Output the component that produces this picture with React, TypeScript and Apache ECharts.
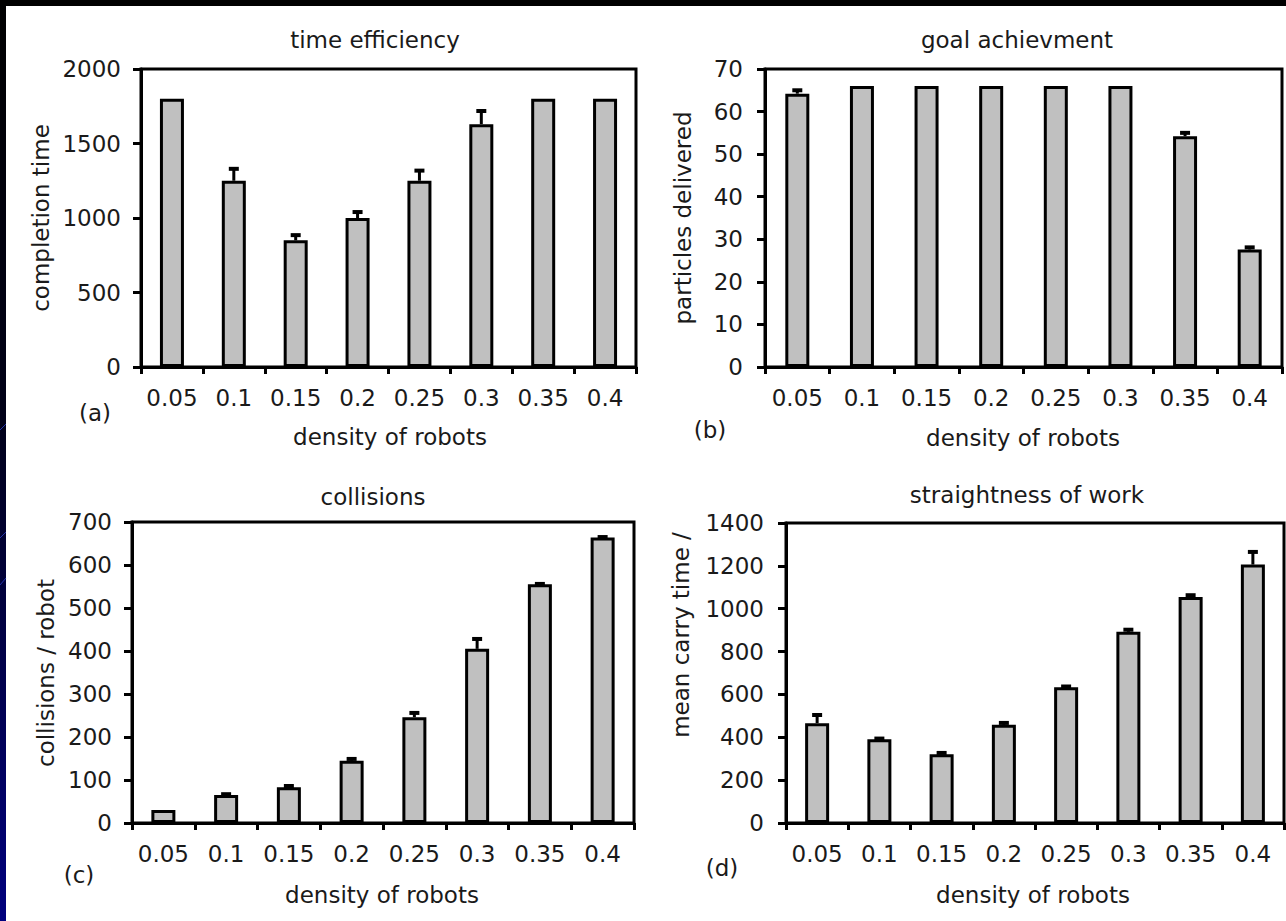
import React, { useEffect, useRef } from "react";
import * as echarts from "echarts";

const densities = ["0.05", "0.1", "0.15", "0.2", "0.25", "0.3", "0.35", "0.4"];

const timeValues = [1800, 1250, 850, 1000, 1250, 1630, 1800, 1800];
const timeErrors = [0, 80, 35, 40, 68, 88, 0, 0];

const goalValues = [64.2, 66, 66, 66, 66, 66, 54.2, 27.6];
const goalErrors = [0.8, 0, 0, 0, 0, 0, 0.8, 0.5];

const collisionValues = [30, 65, 83, 145, 246, 405, 555, 664];
const collisionErrors = [0, 2, 3, 4, 10, 23, 1, 1];

const carryValues = [466, 391, 321, 458, 633, 892, 1055, 1206];
const carryErrors = [38, 3, 6, 9, 4, 10, 8, 59];

const panelTitles = ["time efficiency", "goal achievment", "collisions", "straightness of work"];
const yNames = ["completion time", "particles delivered", "collisions / robot", "mean carry time /"];
const panelLetters = ["(a)", "(b)", "(c)", "(d)"];
const xName = "density of robots";

const yMax = [2000, 70, 700, 1400];
const yInterval = [500, 10, 100, 200];

const FONT = "DejaVu Sans";
const TXT = "#1a1a1a";
const FS = 23;

export default function App() {
  const ref = useRef<HTMLDivElement>(null);

  useEffect(() => {
    if (!ref.current) return;
    const chart = echarts.init(ref.current, null, { renderer: "svg" });

    const grids = [
      { left: 141, top: 69, width: 495, height: 298 },
      { left: 765, top: 69, width: 517, height: 298 },
      { left: 132, top: 522, width: 502, height: 301 },
      { left: 786, top: 523, width: 498, height: 300 },
    ];
    const labelMargins = [20, 22, 20, 22];

    const values = [timeValues, goalValues, collisionValues, carryValues];
    const errors = [timeErrors, goalErrors, collisionErrors, carryErrors];

    const xAxes = grids.map((_, i) => ({
      type: "category",
      gridIndex: i,
      data: densities,
      boundaryGap: true,
      axisLine: { show: true, lineStyle: { color: "#000", width: 3 } },
      axisTick: { show: true, inside: false, length: 7, interval: 0, lineStyle: { color: "#000", width: 3 } },
      axisLabel: { fontFamily: FONT, fontSize: FS, color: TXT, margin: 19, interval: 0 },
      splitLine: { show: false },
    }));

    const yAxes = grids.map((_, i) => ({
      type: "value",
      gridIndex: i,
      min: 0,
      max: yMax[i],
      interval: yInterval[i],
      axisLine: { show: true, lineStyle: { color: "#000", width: 3 } },
      axisTick: { show: true, inside: false, length: 8, lineStyle: { color: "#000", width: 3 } },
      axisLabel: {
        fontFamily: FONT,
        fontSize: FS,
        color: TXT,
        margin: labelMargins[i],
        formatter: (v: number) => String(v),
      },
      splitLine: { show: false },
    }));

    const series: any[] = [];
    values.forEach((vals, i) => {
      series.push({
        type: "bar",
        xAxisIndex: i,
        yAxisIndex: i,
        data: vals,
        barWidth: 24,
        itemStyle: { color: "#c0c0c0", borderColor: "#000", borderWidth: 3 },
        silent: true,
      });
      series.push({
        type: "custom",
        xAxisIndex: i,
        yAxisIndex: i,
        data: vals.map((v, k) => [k, v, errors[i][k]]),
        z: 5,
        silent: true,
        renderItem: (params: any, api: any) => {
          const idx = api.value(0);
          const v = api.value(1);
          const e = api.value(2);
          if (!e) return null;
          const base = api.coord([idx, v]);
          const top = api.coord([idx, v + e]);
          return {
            type: "group",
            children: [
              {
                type: "line",
                shape: { x1: base[0], y1: base[1], x2: top[0], y2: top[1] },
                style: { stroke: "#000", lineWidth: 3 },
              },
              {
                type: "line",
                shape: { x1: top[0] - 5, y1: top[1], x2: top[0] + 5, y2: top[1] },
                style: { stroke: "#000", lineWidth: 4 },
              },
            ],
          };
        },
      });
    });

    const titlePos = [
      [375, 40],
      [1017, 40],
      [373, 497],
      [1027, 495],
    ];
    const letterPos = [
      [95, 413],
      [710, 430],
      [79, 875],
      [722, 868],
    ];
    const xNamePos = [
      [390, 437],
      [1023, 438],
      [382, 895],
      [1033, 895],
    ];
    const yNamePos = [
      [41, 218],
      [683, 218],
      [46, 673],
      [681, 635],
    ];

    const texts: any[] = [];
    const mkText = (text: string, x: number, y: number, rot = 0) => ({
      type: "text",
      x,
      y,
      rotation: rot,
      silent: true,
      style: {
        text,
        fontFamily: FONT,
        fontSize: FS,
        fill: TXT,
        align: "center",
        verticalAlign: "middle",
      },
    });
    for (let i = 0; i < 4; i++) {
      texts.push(mkText(panelTitles[i], titlePos[i][0], titlePos[i][1]));
      texts.push(mkText(panelLetters[i], letterPos[i][0], letterPos[i][1]));
      texts.push(mkText(xName, xNamePos[i][0], xNamePos[i][1]));
      texts.push(mkText(yNames[i], yNamePos[i][0], yNamePos[i][1], Math.PI / 2));
    }

    const decor: any[] = [
      {
        type: "rect",
        shape: { x: 0, y: 0, width: 1286, height: 6 },
        style: { fill: "#000" },
        silent: true,
      },
      {
        type: "rect",
        shape: { x: 0, y: 0, width: 6, height: 921 },
        style: {
          fill: new echarts.graphic.LinearGradient(0, 0, 0, 1, [
            { offset: 0, color: "#000000" },
            { offset: 0.45, color: "#000018" },
            { offset: 1, color: "#00007e" },
          ]),
        },
        silent: true,
      },
      { type: "line", shape: { x1: 0, y1: 430, x2: 6, y2: 424 }, style: { stroke: "#2233aa", lineWidth: 1 }, silent: true },
      { type: "line", shape: { x1: 0, y1: 538, x2: 6, y2: 532 }, style: { stroke: "#2233aa", lineWidth: 1 }, silent: true },
      { type: "line", shape: { x1: 0, y1: 585, x2: 6, y2: 578 }, style: { stroke: "#2233aa", lineWidth: 1 }, silent: true },
    ];

    chart.setOption({
      animation: false,
      backgroundColor: "#ffffff",
      grid: grids.map((g) => ({
        ...g,
        show: true,
        borderColor: "#000",
        borderWidth: 3,
        backgroundColor: "transparent",
        containLabel: false,
      })),
      xAxis: xAxes,
      yAxis: yAxes,
      series,
      graphic: [...decor, ...texts],
    });

    return () => chart.dispose();
  }, []);

  return (
    <div
      ref={ref}
      style={{ position: "absolute", left: 0, top: 0, width: 1286, height: 921 }}
    />
  );
}
